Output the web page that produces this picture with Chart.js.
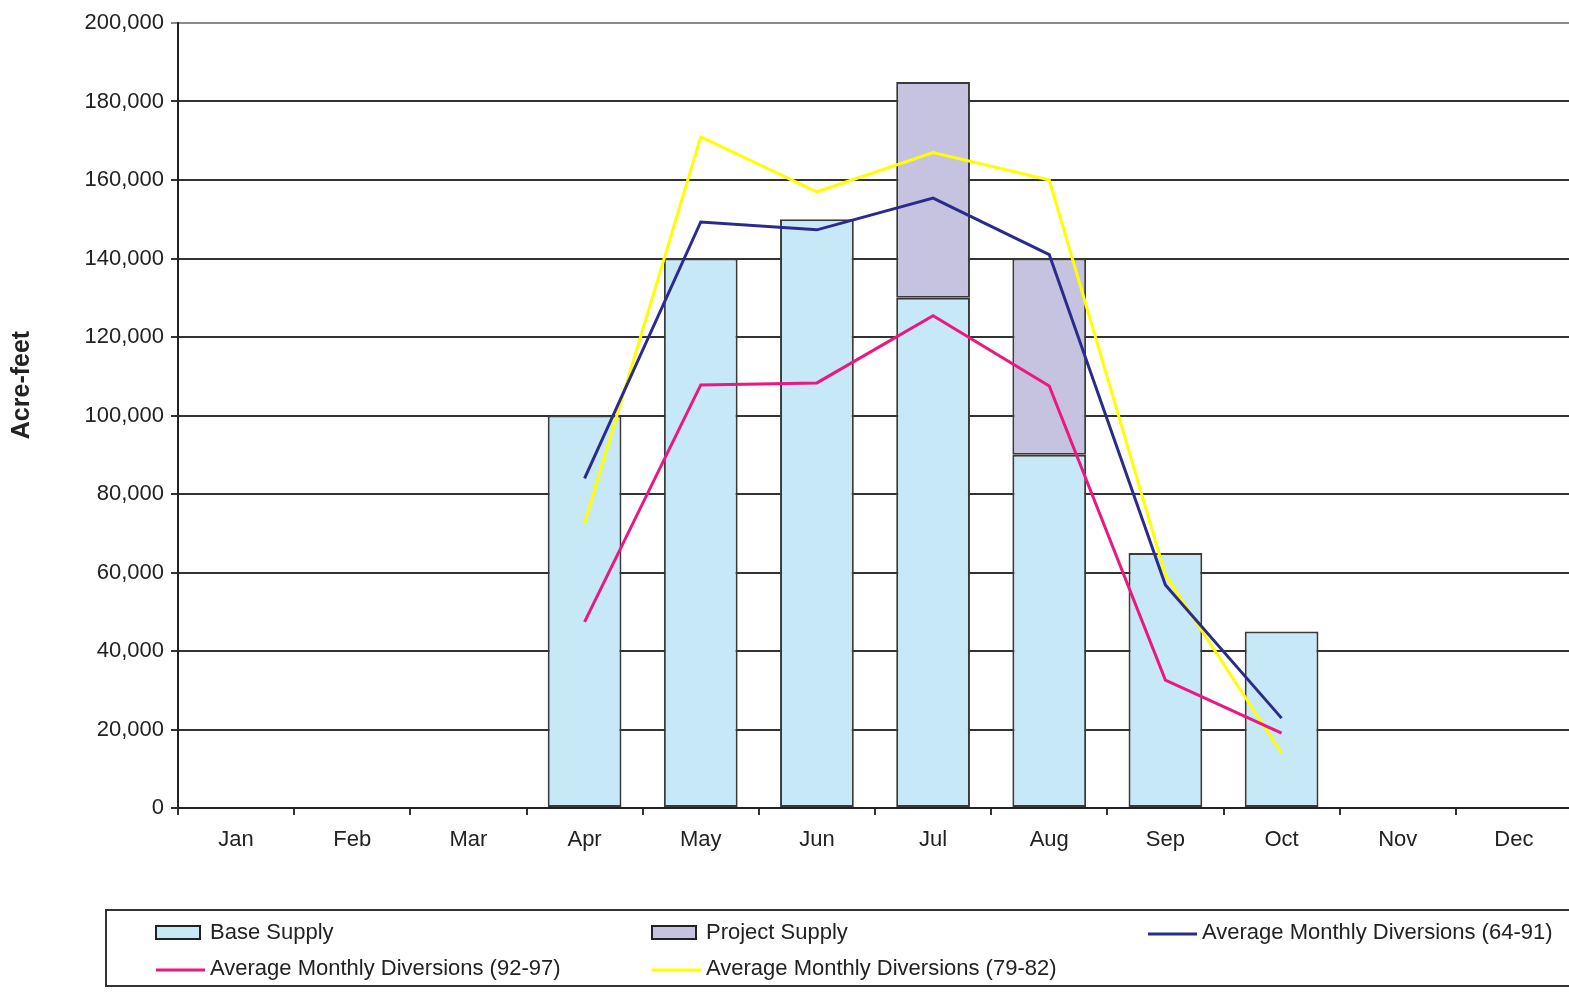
<!DOCTYPE html>
<html>
<head>
<meta charset="utf-8">
<script src="https://cdn.jsdelivr.net/npm/chart.js@4/dist/chart.umd.min.js"></script>
<style>
  html, body { margin: 0; padding: 0; background: #ffffff; overflow: hidden; }
  #wrap { width: 1569px; height: 992px; overflow: hidden; }
</style>
</head>
<body>
<div id="wrap"><canvas id="c" width="1572" height="992"></canvas></div>
<script>
// Monthly supply and diversion volumes (acre-feet)
const months = ['Jan', 'Feb', 'Mar', 'Apr', 'May', 'Jun', 'Jul', 'Aug', 'Sep', 'Oct', 'Nov', 'Dec'];
const baseSupply    = [null, null, null, 100000, 140000, 150000, 130000, 90000, 65000, 45000, null, null];
const projectSupply = [null, null, null, null, null, null, 55000, 50000, null, null, null, null];
const diversions6491 = [null, null, null, 84000, 149300, 147300, 155400, 141000, 56800, 22900, null, null];
const diversions9297 = [null, null, null, 47400, 107800, 108300, 125400, 107500, 32600, 19100, null, null];
const diversions7982 = [null, null, null, 72600, 171000, 157000, 167000, 160000, 59400, 14000, null, null];
const yTicks = [0, 20000, 40000, 60000, 80000, 100000, 120000, 140000, 160000, 180000, 200000];

const FONT = '"Liberation Sans", Arial, sans-serif';

// Rotated y-axis caption
const yCaption = {
  id: 'yCaption',
  afterDraw(chart) {
    const ctx = chart.ctx;
    ctx.save();
    ctx.translate(22, 385);
    ctx.rotate(-Math.PI / 2);
    ctx.font = 'bold 25px ' + FONT;
    ctx.fillStyle = '#222222';
    ctx.textAlign = 'center';
    ctx.textBaseline = 'middle';
    ctx.fillText('Acre-feet', 0, 0);
    ctx.restore();
  }
};

// Legend drawn in a framed box beneath the plot
const boxLegend = {
  id: 'boxLegend',
  afterDraw(chart) {
    const ctx = chart.ctx;
    ctx.save();
    ctx.strokeStyle = '#333333';
    ctx.lineWidth = 2;
    ctx.strokeRect(106, 910, 1470, 76);
    const items = [
      { ds: 0, x: 156, y: 932, kind: 'box' },
      { ds: 1, x: 652, y: 932, kind: 'box' },
      { ds: 2, x: 1148, y: 932, kind: 'line' },
      { ds: 3, x: 156, y: 968, kind: 'line' },
      { ds: 4, x: 652, y: 968, kind: 'line' }
    ];
    ctx.font = '22px ' + FONT;
    ctx.textBaseline = 'middle';
    ctx.textAlign = 'left';
    items.forEach(it => {
      const d = chart.data.datasets[it.ds];
      if (it.kind === 'box') {
        ctx.fillStyle = d.backgroundColor;
        ctx.fillRect(it.x, it.y - 6, 44, 13);
        ctx.strokeStyle = '#222222';
        ctx.lineWidth = 2;
        ctx.strokeRect(it.x, it.y - 6, 44, 13);
      } else {
        ctx.strokeStyle = d.borderColor;
        ctx.lineWidth = 3;
        ctx.beginPath();
        ctx.moveTo(it.x, it.y + 2);
        ctx.lineTo(it.x + 49, it.y + 2);
        ctx.stroke();
      }
      ctx.fillStyle = '#222222';
      ctx.fillText(d.label, it.x + 54, it.y + 1);
    });
    ctx.restore();
  }
};

new Chart(document.getElementById('c'), {
  data: {
    labels: months,
    datasets: [
      {
        type: 'bar', label: 'Base Supply', data: baseSupply, stack: 'supply',
        backgroundColor: '#c6e8f7', borderColor: '#3a3a3a', borderWidth: 2,
        borderSkipped: false, order: 2
      },
      {
        type: 'bar', label: 'Project Supply', data: projectSupply, stack: 'supply',
        backgroundColor: '#c6c3e0', borderColor: '#3a3a3a', borderWidth: 2,
        borderSkipped: false, order: 2
      },
      {
        type: 'line', label: 'Average Monthly Diversions (64-91)', data: diversions6491, stack: 'a',
        borderColor: '#2b2b8e', borderWidth: 3, pointRadius: 0, tension: 0, fill: false, order: 1
      },
      {
        type: 'line', label: 'Average Monthly Diversions (92-97)', data: diversions9297, stack: 'b',
        borderColor: '#ec1780', borderWidth: 3, pointRadius: 0, tension: 0, fill: false, order: 1
      },
      {
        type: 'line', label: 'Average Monthly Diversions (79-82)', data: diversions7982, stack: 'c',
        borderColor: '#ffff00', borderWidth: 3, pointRadius: 0, tension: 0, fill: false, order: 1
      }
    ]
  },
  options: {
    responsive: false,
    animation: false,
    layout: { padding: { top: 23, left: 0, right: 0, bottom: 0 } },
    plugins: {
      legend: { display: false },
      tooltip: { enabled: false }
    },
    datasets: {
      bar: { barPercentage: 1.0, categoryPercentage: 0.635 }
    },
    scales: {
      x: {
        stacked: true,
        offset: true,
        grid: {
          offset: true,
          drawOnChartArea: false,
          drawTicks: true,
          tickLength: 7,
          color: '#333333',
          lineWidth: 2
        },
        border: { display: true, color: '#222222', width: 2 },
        ticks: {
          color: '#222222',
          padding: 12,
          font: { family: FONT, size: 22 }
        },
        afterFit(scale) { scale.height = 184; }
      },
      y: {
        stacked: true,
        min: 0,
        max: 200000,
        afterBuildTicks(scale) { scale.ticks = yTicks.map(v => ({ value: v })); },
        grid: {
          color: ctx => (ctx.tick && ctx.tick.value === 200000) ? '#8a8a8a' : '#333333',
          lineWidth: 2,
          drawTicks: true,
          tickLength: 7
        },
        border: { display: true, color: '#222222', width: 2 },
        ticks: {
          color: '#222222',
          padding: 7,
          font: { family: FONT, size: 22 },
          callback: v => v.toLocaleString('en-US')
        },
        afterFit(scale) { scale.width = 178; }
      }
    }
  },
  plugins: [yCaption, boxLegend]
});
</script>
</body>
</html>
